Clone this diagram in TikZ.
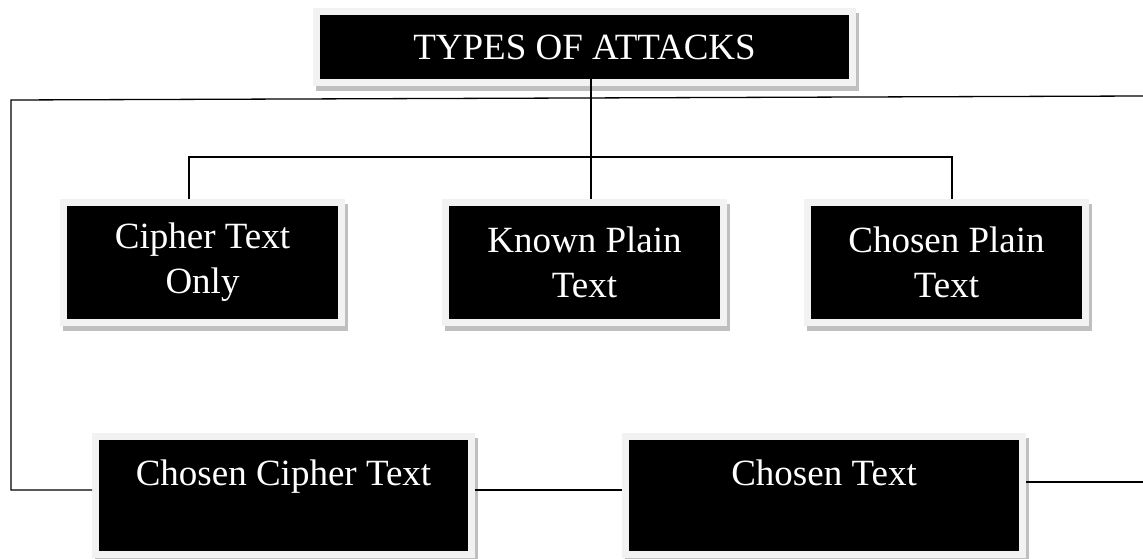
\documentclass[tikz,border=0pt]{standalone}
\usepackage{fontspec}
\setmainfont{Liberation Serif}
\usepackage{tikz}
\usetikzlibrary{calc}

\definecolor{framegrey}{HTML}{F2F2F2}
\definecolor{shadowgrey}{HTML}{BFBFBF}
\tikzset{
  attackbox/.style={fill=black, text=white, draw=framegrey, line width=7pt,
    align=center, inner sep=0pt, font=\fontsize{37}{45}\selectfont,
    preaction={draw=shadowgrey, fill=shadowgrey,
      transform canvas={shift={(3pt,-5pt)}}}},
  link/.style={draw=black, line width=1.3pt}
}

\begin{document}
\begin{tikzpicture}[x=1pt, y=1pt]
  \useasboundingbox (0,0) rectangle (1143,-559);
  % heading
  \node[attackbox, minimum width=536, minimum height=71] (top) at (584.5,-47) {TYPES OF ATTACKS};
  % first row
  \foreach \name/\x/\txt in {cto/202.5/{Cipher Text\\Only},
                             kpt/584.5/{Known Plain\\Text},
                             cpt/946.5/{Chosen Plain\\Text}}{
    \node[attackbox, minimum width=278, minimum height=120] (\name) at (\x,-262.5) {\txt};}
  % second row
  \node[attackbox, minimum width=376, minimum height=118] (cct) at (283.5,-495.5) {Chosen Cipher Text\\~};
  \node[attackbox, minimum width=397, minimum height=118] (ct) at (824,-495.5) {Chosen Text\\~};

  \coordinate (split) at (591,-157);
  \coordinate (west) at (11,-100);
  \coordinate (east) at (1143,-96);
  \draw[link] ([yshift=8]top.south -| split) -- (kpt.north -| split);
  \draw[link] ([xshift=-13.5]cto.north) |- (split) -| ([xshift=5.5]cpt.north);
  \draw[link] (east) -- (west) |- ([yshift=5.5]cct.west);
  \draw[link] ([yshift=5.5]cct.east) -- ([yshift=5.5]ct.west);
  \draw[link] ([yshift=13.5]ct.east) -- ([yshift=13.5]ct.east -| east);
\end{tikzpicture}
\end{document}
